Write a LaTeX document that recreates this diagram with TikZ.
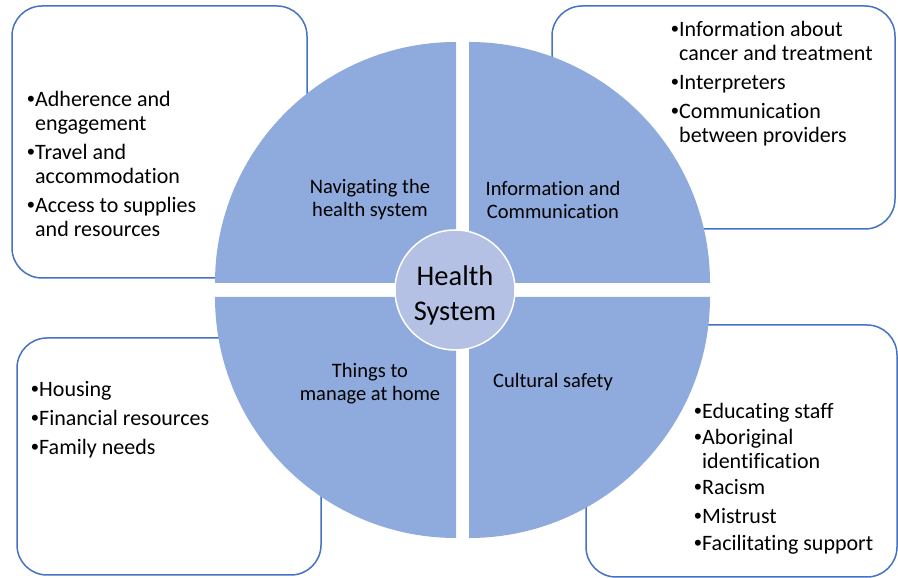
\documentclass[tikz,border=0pt]{standalone}
\usepackage{fontspec}
\setmainfont{Carlito}[Ligatures=NoCommon]
\newfontfamily\dotfont{Liberation Sans}
\usetikzlibrary{positioning}
\definecolor{quadblue}{HTML}{8FAADC}
\definecolor{hubblue}{HTML}{B4C1E4}
\definecolor{boxline}{HTML}{4472C4}
\newcommand{\bitem}{\makebox[8pt][l]{\dotfont\textbullet}}

\begin{document}
\begin{tikzpicture}[x=1pt,y=1pt,
    listbox/.style={draw=boxline,line width=1.5pt,rounded corners=30pt,fill=white,inner sep=0pt},
    hub/.style={circle,fill=hubblue,draw=white,line width=1.5pt,inner sep=0pt,minimum size=120pt,
        align=center,font=\fontsize{28.5}{35}\selectfont},
    quad/.style={align=center,font=\fontsize{20.5}{23}\selectfont},
    items/.style={anchor=base west,inner sep=0pt,font=\fontsize{22}{24}\selectfont}]
    \useasboundingbox (0,0) rectangle (898,578);
    \node[listbox,minimum width=295pt,minimum height=272pt] (navbox) at (159.5,436) {};
    \node[listbox,minimum width=343pt,minimum height=223pt] (infobox) at (723.5,460.5) {};
    \node[listbox,minimum width=304pt,minimum height=237pt] (homebox) at (169,121.5) {};
    \node[listbox,minimum width=311pt,minimum height=252pt] (safebox) at (741.5,127) {};
    \coordinate (mid) at (462.5,288);
    \fill[quadblue] ([shift={(-6.5,7)}]mid) -- ++(-241,0) arc[start angle=180,end angle=90,radius=241] -- cycle;
    \fill[quadblue] ([shift={(6.5,7)}]mid) -- ++(241,0) arc[start angle=0,end angle=90,radius=241] -- cycle;
    \fill[quadblue] ([shift={(-6.5,-7)}]mid) -- ++(-241,0) arc[start angle=180,end angle=270,radius=241] -- cycle;
    \fill[quadblue] ([shift={(6.5,-7)}]mid) -- ++(241,0) arc[start angle=0,end angle=-90,radius=241] -- cycle;
    \node[hub] (health) at (455,288) {\rule{0pt}{30pt}Health\\System};
    \node[quad] (navlabel) at (370,378) {Navigating the\\health system};
    \node[quad] (infolabel) at (553,378) {Information and\\Communication};
    \node[quad] (homelabel) at (370,194) {Things to\\manage at home};
    \node[quad] (safelabel) at (553,196) {Cultural safety};
    \node[items] (navlist) at (27,471) {\begin{tabular}[t]{@{}l@{}l@{}}
        \bitem&Adherence and\\ &engagement\\[5pt]
        \bitem&Travel and\\ &accommodation\\[5pt]
        \bitem&Access to supplies\\ &and resources
    \end{tabular}};
    \node[items] (infolist) at (671,541) {\begin{tabular}[t]{@{}l@{}l@{}}
        \bitem&Information about\\ &cancer and treatment\\[5pt]
        \bitem&Interpreters\\[5pt]
        \bitem&Communication\\ &between providers
    \end{tabular}};
    \node[items] (homelist) at (31,181) {\begin{tabular}[t]{@{}l@{}l@{}}
        \bitem&Housing\\[5pt]
        \bitem&Financial resources\\[5pt]
        \bitem&Family needs
    \end{tabular}};
    \node[items] (safelist) at (694,159) {\begin{tabular}[t]{@{}l@{}l@{}}
        \bitem&Educating staff\\[2pt]
        \bitem&Aboriginal\\ &identification\\[2pt]
        \bitem&Racism\\[5pt]
        \bitem&Mistrust\\[3pt]
        \bitem&Facilitating support
    \end{tabular}};
\end{tikzpicture}
\end{document}
